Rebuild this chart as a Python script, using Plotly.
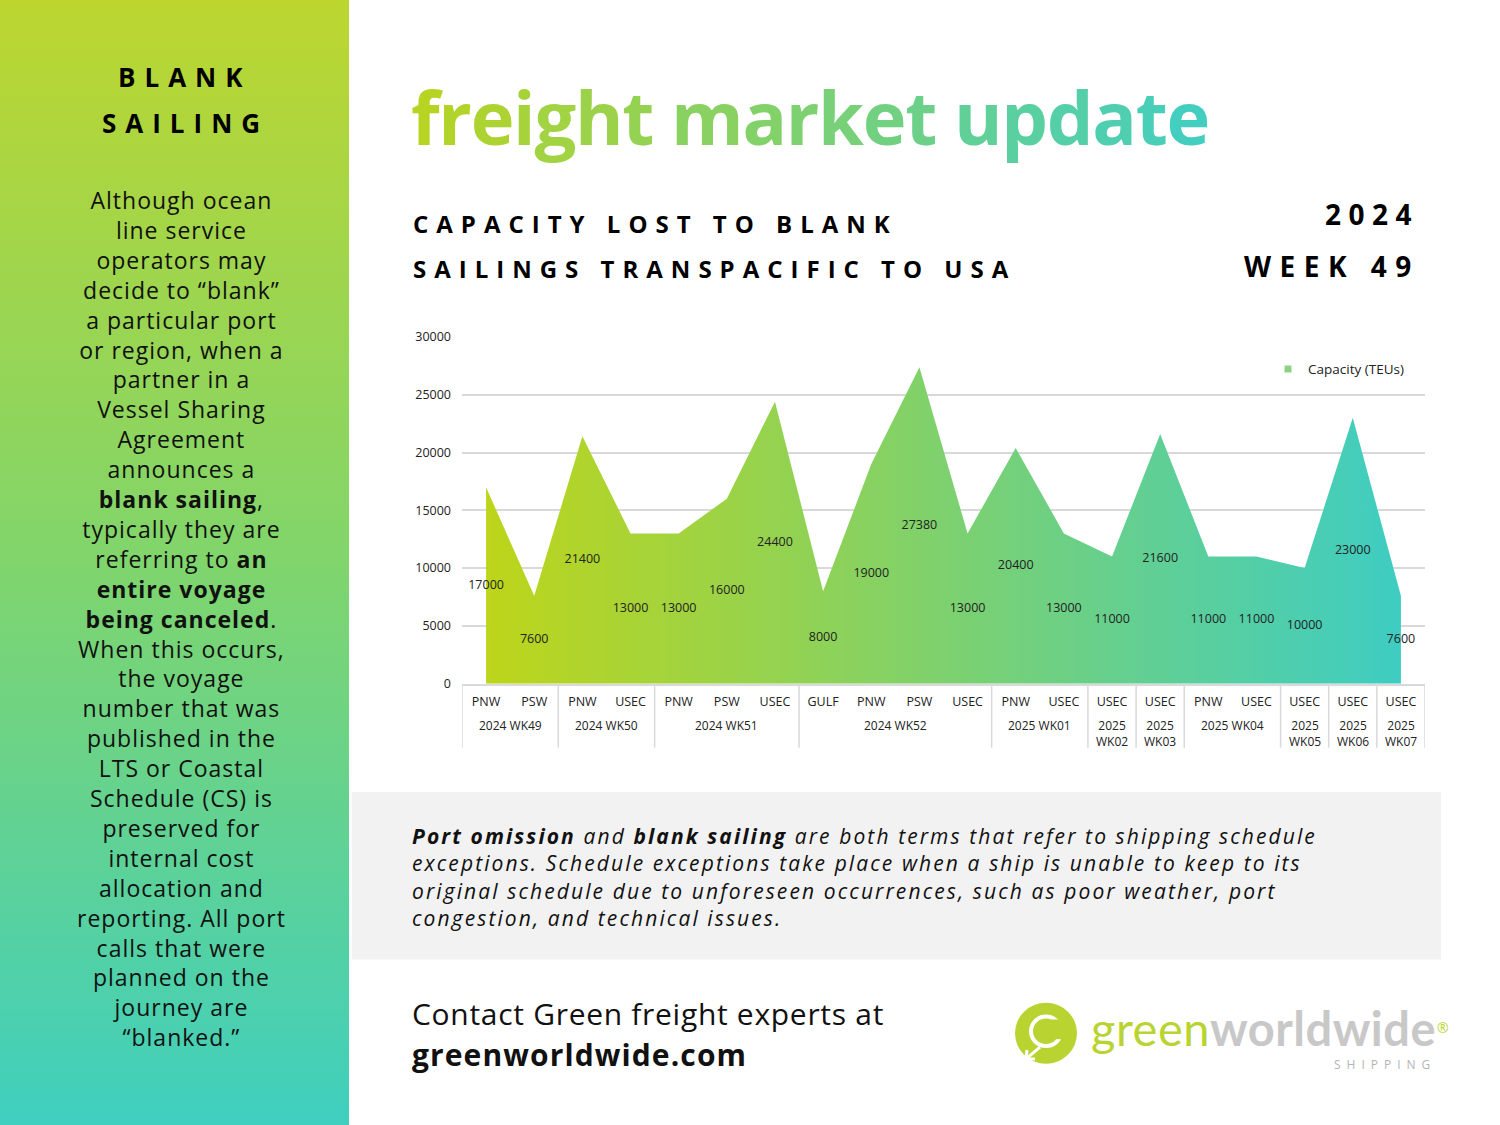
import base64
import plotly.graph_objects as go

W, H = 1500, 1125


def px(x):
    return x / W


def py(y):
    return 1 - y / H


# ---------------- data ----------------
weeks = ["2024 WK49", "2024 WK49", "2024 WK50", "2024 WK50",
         "2024 WK51", "2024 WK51", "2024 WK51",
         "2024 WK52", "2024 WK52", "2024 WK52", "2024 WK52",
         "2025 WK01", "2025 WK01", "2025<br>WK02", "2025<br>WK03",
         "2025 WK04", "2025 WK04", "2025<br>WK05", "2025<br>WK06", "2025<br>WK07"]
regions = ["PNW", "PSW", "PNW", "USEC", "PNW", "PSW", "USEC",
           "GULF", "PNW", "PSW", "USEC", "PNW", "USEC", "USEC", "USEC",
           "PNW", "USEC", "USEC", "USEC", "USEC"]
capacity = [17000, 7600, 21400, 13000, 13000, 16000, 24400,
            8000, 19000, 27380, 13000, 20400, 13000, 11000, 21600,
            11000, 11000, 10000, 23000, 7600]
y_ticks = [0, 5000, 10000, 15000, 20000, 25000, 30000]
series_name = "Capacity (TEUs)"

FONT = "Open Sans"
GREEN_A = (0xBD, 0xD5, 0x1A)
TEAL_B = (0x3E, 0xCD, 0xC2)


def hexc(c):
    return "#%02x%02x%02x" % c


def mix(a, b, t):
    return tuple(int(round(a[i] + (b[i] - a[i]) * t)) for i in range(3))


idx = list(range(len(regions)))

fig = go.Figure()

fig.add_trace(go.Scatter(
    x=idx, y=capacity, name=series_name,
    mode="none", fill="tozeroy",
    fillgradient=dict(type="horizontal",
                      colorscale=[[0, hexc(GREEN_A)], [1, hexc(TEAL_B)]]),
    customdata=[w.replace("<br>", " ") + " " + r for w, r in zip(weeks, regions)],
    hovertemplate="%{customdata}: %{y}<extra></extra>",
    showlegend=False,
))
fig.add_trace(go.Scatter(
    x=idx, y=[v / 2 for v in capacity],
    mode="text", text=[str(v) for v in capacity],
    textfont=dict(family=FONT, size=12.5, color="#222222"),
    showlegend=False, hoverinfo="skip",
))
# legend entry (small square like the reference)
fig.add_trace(go.Scatter(
    x=[None], y=[None], mode="markers", name=series_name,
    marker=dict(symbol="square", size=7, color="#8fd184"),
))

# ---------------- left panel gradient ----------------
svg = ('<svg xmlns="http://www.w3.org/2000/svg" width="349" height="1125" '
       'preserveAspectRatio="none">'
       '<defs><linearGradient id="g" x1="0" y1="0" x2="0" y2="1">'
       '<stop offset="0" stop-color="#bed62e"/>'
       '<stop offset="0.5" stop-color="#80d56c"/>'
       '<stop offset="1" stop-color="#3dcfc1"/>'
       '</linearGradient></defs>'
       '<rect width="349" height="1125" fill="url(#g)"/></svg>')
src = "data:image/svg+xml;base64," + base64.b64encode(svg.encode()).decode()

images = [dict(source=src, xref="paper", yref="paper", x=0, y=1.02,
               sizex=349 / W, sizey=1.04, sizing="stretch",
               xanchor="left", yanchor="top", layer="below")]

shapes = [
    dict(type="rect", xref="paper", yref="paper", x0=px(352), x1=px(1441),
         y0=py(965), y1=py(795), fillcolor="#f2f2f2", line=dict(width=0),
         layer="below"),
    # logo circle
    dict(type="circle", xref="paper", yref="paper",
         x0=px(1046 - 31), x1=px(1046 + 31), y0=py(1040 + 31), y1=py(1040 - 31),
         fillcolor="#b9d431", line=dict(width=0)),
    dict(type="circle", xref="paper", yref="paper",
         x0=px(1046 - 15), x1=px(1046 + 15), y0=py(1038 + 15), y1=py(1038 - 15),
         fillcolor="rgba(0,0,0,0)", line=dict(color="white", width=4)),
    dict(type="rect", xref="paper", yref="paper",
         x0=px(1050), x1=px(1066), y0=py(1046), y1=py(1026),
         fillcolor="#b9d431", line=dict(width=0)),
    dict(type="path", xref="paper", yref="paper",
         path=f"M {px(1040)},{py(1054)} L {px(1026)},{py(1066)} M {px(1026)},{py(1066)} L {px(1027)},{py(1057)} M {px(1026)},{py(1066)} L {px(1035)},{py(1066)}",
         line=dict(color="white", width=3)),
]

annotations = []


def ann(text, x, y, size, xanchor="left", yanchor="middle", align="left",
        color="#000000", family=FONT):
    annotations.append(dict(text=text, x=px(x), y=py(y),
                            xref="paper", yref="paper",
                            xanchor=xanchor, yanchor=yanchor, align=align,
                            showarrow=False,
                            font=dict(family=family, size=size, color=color)))


# ---- week groups under the axis (derived from the data) ----
groups = []
start = 0
for i in range(1, len(weeks) + 1):
    if i == len(weeks) or weeks[i] != weeks[start]:
        groups.append((weeks[start], start, i - 1))
        start = i
bounds = sorted({g[1] - 0.5 for g in groups} | {groups[-1][2] + 0.5})
for b in bounds:
    shapes.append(dict(type="line", xref="x", yref="paper", x0=b, x1=b,
                       y0=py(685), y1=py(750), line=dict(color="#d9d9d9", width=1.5)))
for label, a, b in groups:
    annotations.append(dict(text=label, x=(a + b) / 2, y=py(717), xref="x", yref="paper",
                            xanchor="center", yanchor="top", align="center",
                            showarrow=False,
                            font=dict(family=FONT, size=12, color="#222222")))

# left panel heading
ann('<b><span style="letter-spacing:9px">BLANK</span></b>', 185, 69, 26, xanchor="center", align="center")
ann('<b><span style="letter-spacing:9px">SAILING</span></b>', 185, 116, 26, xanchor="center", align="center")

left_lines = [
    "Although ocean", "line service", "operators may", "decide to “blank”",
    "a particular port", "or region, when a", "partner in a", "Vessel Sharing",
    "Agreement", "announces a", "<b>blank sailing</b>,", "typically they are",
    "referring to <b>an</b>", "<b>entire voyage</b>", "<b>being canceled</b>.",
    "When this occurs,", "the voyage", "number that was", "published in the",
    "LTS or Coastal", "Schedule (CS) is", "preserved for", "internal cost",
    "allocation and", "reporting. All port", "calls that were",
    "planned on the", "journey are", "“blanked.”"]
ann('<span style="letter-spacing:1px">' + "<br>".join(left_lines) + "</span>",
    181, 619, 23, xanchor="center", align="center", yanchor="middle", color="#111111")

# gradient title
title = "freight market update"
n = len(title)
tstart, tend = (0xB8, 0xD4, 0x22), (0x43, 0xCE, 0xC0)
parts = []
for i, ch in enumerate(title):
    c = hexc(mix(tstart, tend, i / (n - 1)))
    parts.append(f'<span style="color:{c};letter-spacing:-1.3px">{ch}</span>')
ann("<b>" + "".join(parts) + "</b>", 409, 109, 74)

# subtitle
ann('<b><span style="letter-spacing:8px">CAPACITY LOST TO BLANK</span></b>', 411, 218, 24)
ann('<b><span style="letter-spacing:8px">SAILINGS TRANSPACIFIC TO USA</span></b>', 411, 263, 24)
ann('<b><span style="letter-spacing:7.5px">2024</span></b>', 1421, 208, 28, xanchor="right", align="right")
ann('<b><span style="letter-spacing:8.5px">WEEK 49</span></b>', 1422, 261, 28, xanchor="right", align="right")

# info box text (one block, 1.3em line spacing ≈ 27px)
box_lines = [
    "<b>Port omission</b> and <b>blank sailing</b> are both terms that refer to shipping schedule",
    "exceptions. Schedule exceptions take place when a ship is unable to keep to its",
    "original schedule due to unforeseen occurrences, such as poor weather, port",
    "congestion, and technical issues."]
ann('<i><span style="letter-spacing:2.1px">' + "<br>".join(box_lines) + "</span></i>",
    410, 881, 21, color="#111111")

# contact
ann('<span style="letter-spacing:0.7px">Contact Green freight experts at</span>', 410, 1020, 30, color="#111111")
ann('<b><span style="letter-spacing:1.1px">greenworldwide.com</span></b>', 410, 1062, 30, color="#111111")

# logo text
ann('<span style="letter-spacing:0.5px"><span style="color:#b9d431">green</span>'
    '<span style="color:#c8c8c8"><b>worldwide</b></span></span>',
    1089, 1035, 47, family="Lato")
ann('<span style="color:#b9d431">®</span>', 1443, 1034, 14, xanchor="center")
ann('<span style="letter-spacing:6px">SHIPPING</span>', 1438, 1072, 12,
    xanchor="right", color="#b5b5b5")

fig.update_layout(
    width=W, height=H,
    margin=dict(l=0, r=0, t=0, b=0),
    paper_bgcolor="white", plot_bgcolor="white",
    showlegend=True,
    legend=dict(x=px(1409), y=py(350), xanchor="right", yanchor="top",
                bgcolor="rgba(0,0,0,0)",
                font=dict(family=FONT, size=13.5, color="#222222")),
    xaxis=dict(domain=[px(462), px(1425)], range=[-0.5, len(regions) - 0.5],
               tickvals=idx, ticktext=regions,
               showline=True, linecolor="#d9d9d9", linewidth=1.5,
               showgrid=False, zeroline=False, ticks="", ticklabelstandoff=6,
               tickfont=dict(family=FONT, size=12.5, color="#222222")),
    yaxis=dict(domain=[py(685), py(333)], range=[0, 30000],
               tickvals=y_ticks, ticktext=[str(v) for v in y_ticks],
               showgrid=True, gridcolor="#d9d9d9", gridwidth=1.5,
               zeroline=False, showline=False, ticks="", ticklabelstandoff=10,
               tickfont=dict(family=FONT, size=12.5, color="#222222")),
    images=images, shapes=shapes, annotations=annotations,
)

fig.write_html("out.html")
